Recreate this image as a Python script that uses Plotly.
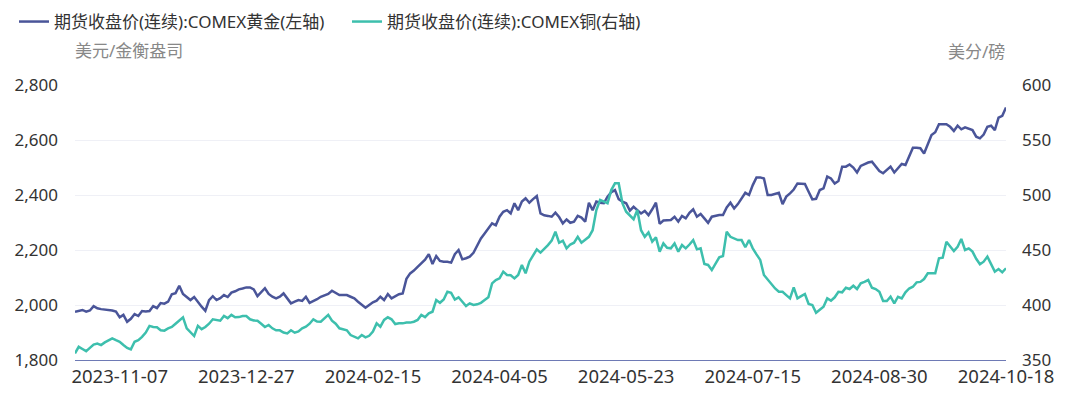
import pandas as pd
import plotly.graph_objects as go

# ---- data -------------------------------------------------------------
start_date = "2023-10-20"
end_date = "2024-10-18"
holidays = ["2023-11-23", "2023-12-25", "2024-01-01", "2024-01-15", "2024-02-19",
            "2024-03-29", "2024-05-27", "2024-06-19", "2024-07-04", "2024-09-02"]
tick_dates = ["2023-11-07", "2023-12-27", "2024-02-15", "2024-04-05",
              "2024-05-23", "2024-07-15", "2024-08-30", "2024-10-18"]

gold = [1975, 1978, 1982, 1976, 1980, 1996, 1988, 1985, 1984, 1982,
        1980, 1976, 1955, 1964, 1939, 1950, 1967, 1960, 1978, 1976,
        1978, 1996, 1989, 2007, 2005, 2012, 2039, 2043, 2070, 2040,
        2030, 2018, 2029, 2010, 1994, 1979, 2018, 2032, 2018, 2025,
        2036, 2029, 2045, 2050, 2057, 2060, 2064, 2064, 2057, 2032,
        2045, 2061, 2040, 2030, 2024, 2030, 2042, 2025, 2006, 2012,
        2018, 2015, 2030, 2008, 2014, 2021, 2030, 2036, 2040, 2052,
        2045, 2036, 2036, 2036, 2030, 2024, 2012, 2000, 1990, 2000,
        2010, 2016, 2030, 2018, 2040, 2024, 2032, 2039, 2042, 2095,
        2115, 2125, 2139, 2152, 2165, 2185, 2149, 2178, 2160, 2157,
        2157, 2154, 2185, 2200, 2166, 2170, 2176, 2190, 2215, 2242,
        2260, 2280, 2297, 2290, 2321, 2339, 2345, 2333, 2370, 2345,
        2376, 2388, 2372, 2385, 2396, 2333, 2326, 2324, 2321, 2336,
        2320, 2297, 2311, 2299, 2303, 2324, 2318, 2303, 2372, 2345,
        2376, 2372, 2370, 2394, 2410, 2418, 2385, 2376, 2370, 2343,
        2357, 2345, 2333, 2342, 2327, 2348, 2372, 2295, 2307, 2308,
        2309, 2321, 2303, 2324, 2315, 2335, 2348, 2321, 2331, 2315,
        2299, 2321, 2325, 2327, 2327, 2355, 2372, 2351, 2367, 2390,
        2408, 2400, 2436, 2464, 2464, 2460, 2400, 2400, 2403, 2408,
        2367, 2394, 2406, 2420, 2442, 2440, 2440, 2412, 2384, 2386,
        2418, 2424, 2467, 2460, 2442, 2451, 2503, 2503, 2511, 2500,
        2482, 2506, 2512, 2518, 2521, 2503, 2487, 2479, 2490, 2503,
        2482, 2497, 2513, 2509, 2539, 2572, 2572, 2570, 2551, 2588,
        2618, 2628, 2657, 2657, 2657, 2648, 2633, 2652, 2639, 2646,
        2642, 2636, 2612, 2606, 2620, 2648, 2652, 2636, 2681, 2688,
        2718]

copper = [356, 362, 360, 358, 361, 364, 365, 363.6, 366, 368,
          369.7, 368, 366.6, 363.6, 361, 359.7, 366.6, 368, 371, 375,
          381, 380, 379.7, 377, 376.7, 378.8, 380, 383, 386, 388.8,
          378.8, 375, 371.8, 381, 378, 380, 383, 387, 386, 385.7,
          390, 388, 391, 388.8, 389, 390, 390, 387, 386, 385.7,
          383, 380, 381.8, 378.8, 377, 377, 375, 374.2, 377, 374.8,
          376, 378.8, 380.3, 383, 387, 385, 384.8, 388, 391, 385.7,
          383, 378.8, 378, 377, 372.7, 371, 369.7, 372.7, 370.6, 372,
          375.8, 383.3, 380.3, 386.4, 388.8, 387, 382.7, 383.3, 383.3, 384,
          384, 384.8, 386.4, 391, 389, 392.4, 393.9, 404.5, 402, 405,
          412, 411, 405, 407, 403, 399, 401.5, 400, 400.6, 402,
          404.5, 407, 419.7, 422.7, 424.2, 430.3, 427.3, 427, 424.2, 427.3,
          436.4, 428.8, 439.4, 445, 450.6, 447.6, 450.6, 454.5, 458.5, 466.6,
          456.6, 458.5, 451.5, 455, 456.6, 462, 456.6, 459, 462, 468,
          486.4, 495.5, 494, 492.5, 504.5, 510.6, 510.6, 492.5, 484.8, 481.8,
          478, 486.4, 468, 462, 466, 457.6, 461.5, 448.5, 456, 452,
          451.5, 456, 448.5, 454.5, 451.5, 455, 459, 450.6, 451.5, 437.3,
          436.4, 431.8, 438, 443.4, 444.5, 466.6, 462, 460.6, 459, 459,
          452.5, 459, 451.5, 446, 441, 427.3, 423, 419.7, 415, 412,
          412, 409, 406, 416, 406, 408, 410, 401, 400, 393,
          395.5, 398.5, 406, 404, 407, 412, 411.5, 415.7, 414.5, 417.5,
          414.5, 419.7, 421, 422.7, 415.7, 414.5, 412, 403.6, 403.6, 407.5,
          401.5, 407.5, 406, 411.5, 415, 416.6, 420.6, 421, 423.6, 428.8,
          428.8, 428.8, 442.5, 443, 457.5, 453, 449, 453, 460, 450,
          451.5, 448.5, 442, 437, 439.4, 444, 436.4, 430.3, 432.7, 429.7,
          433.4]

gold_name = "期货收盘价(连续):COMEX黄金(左轴)"
copper_name = "期货收盘价(连续):COMEX铜(右轴)"
left_unit = "美元/金衡盎司"
right_unit = "美分/磅"

# trading-day calendar (categories)
days = pd.bdate_range(start_date, end_date)
days = [d.strftime("%Y-%m-%d") for d in days if d.strftime("%Y-%m-%d") not in holidays]
n = min(len(days), len(gold), len(copper))
dates = days[-n:]
gold = gold[-n:]
copper = copper[-n:]

# ---- style ------------------------------------------------------------
GOLD_C = "#4a5599"
COPPER_C = "#3dbfad"
FONT = "Noto Sans, Noto Sans CJK SC, sans-serif"
TXT = "#333333"
W, H = 1068, 391  # page body adds an 8px offset

fig = go.Figure()
fig.add_trace(go.Scatter(x=dates, y=gold, name=gold_name, mode="lines",
                         line=dict(color=GOLD_C, width=2.5), yaxis="y"))
fig.add_trace(go.Scatter(x=dates, y=copper, name=copper_name, mode="lines",
                         line=dict(color=COPPER_C, width=2.5), yaxis="y2"))

fig.update_layout(
    width=W, height=H,
    margin=dict(l=67, r=70, t=77, b=39, autoexpand=False),
    paper_bgcolor="white", plot_bgcolor="white",
    font=dict(family=FONT, size=16, color=TXT),
    showlegend=True,
    legend=dict(orientation="h", xref="container", yref="container",
                x=6 / W, xanchor="left", y=1 - 14 / H, yanchor="middle",
                font=dict(size=17, color=TXT), itemwidth=30,
                entrywidth=288, entrywidthmode="pixels",
                bgcolor="rgba(0,0,0,0)"),
    xaxis=dict(type="category", categoryorder="array", categoryarray=dates,
               range=[0, n - 1], tickmode="array", tickvals=tick_dates, ticktext=tick_dates,
               showgrid=False, showline=True, linecolor="#6e7ab5", linewidth=1.2,
               ticks="", tickfont=dict(size=18.5, color=TXT), zeroline=False,
               ticklabelstandoff=0),
    yaxis=dict(range=[1800, 2800], dtick=200, tick0=1800, tickformat=",",
               showgrid=True, gridcolor="#eff0f6", gridwidth=1, zeroline=False,
               showline=False, ticks="", tickfont=dict(size=17, color=TXT),
               ticklabelstandoff=16),
    yaxis2=dict(range=[350, 600], dtick=50, tick0=350, overlaying="y", side="right",
                showgrid=False, zeroline=False, showline=False, ticks="",
                tickfont=dict(size=17, color=TXT), ticklabelstandoff=15),
    annotations=[
        dict(text=left_unit, xref="paper", yref="paper", x=-0.002, y=1 + 35 / 275,
             xanchor="left", yanchor="middle", showarrow=False,
             font=dict(size=17, color="#888888")),
        dict(text=right_unit, xref="paper", yref="paper", x=1.001, y=1 + 33 / 275,
             xanchor="right", yanchor="middle", showarrow=False,
             font=dict(size=17, color="#888888")),
    ],
)

fig.write_html("out.html")
